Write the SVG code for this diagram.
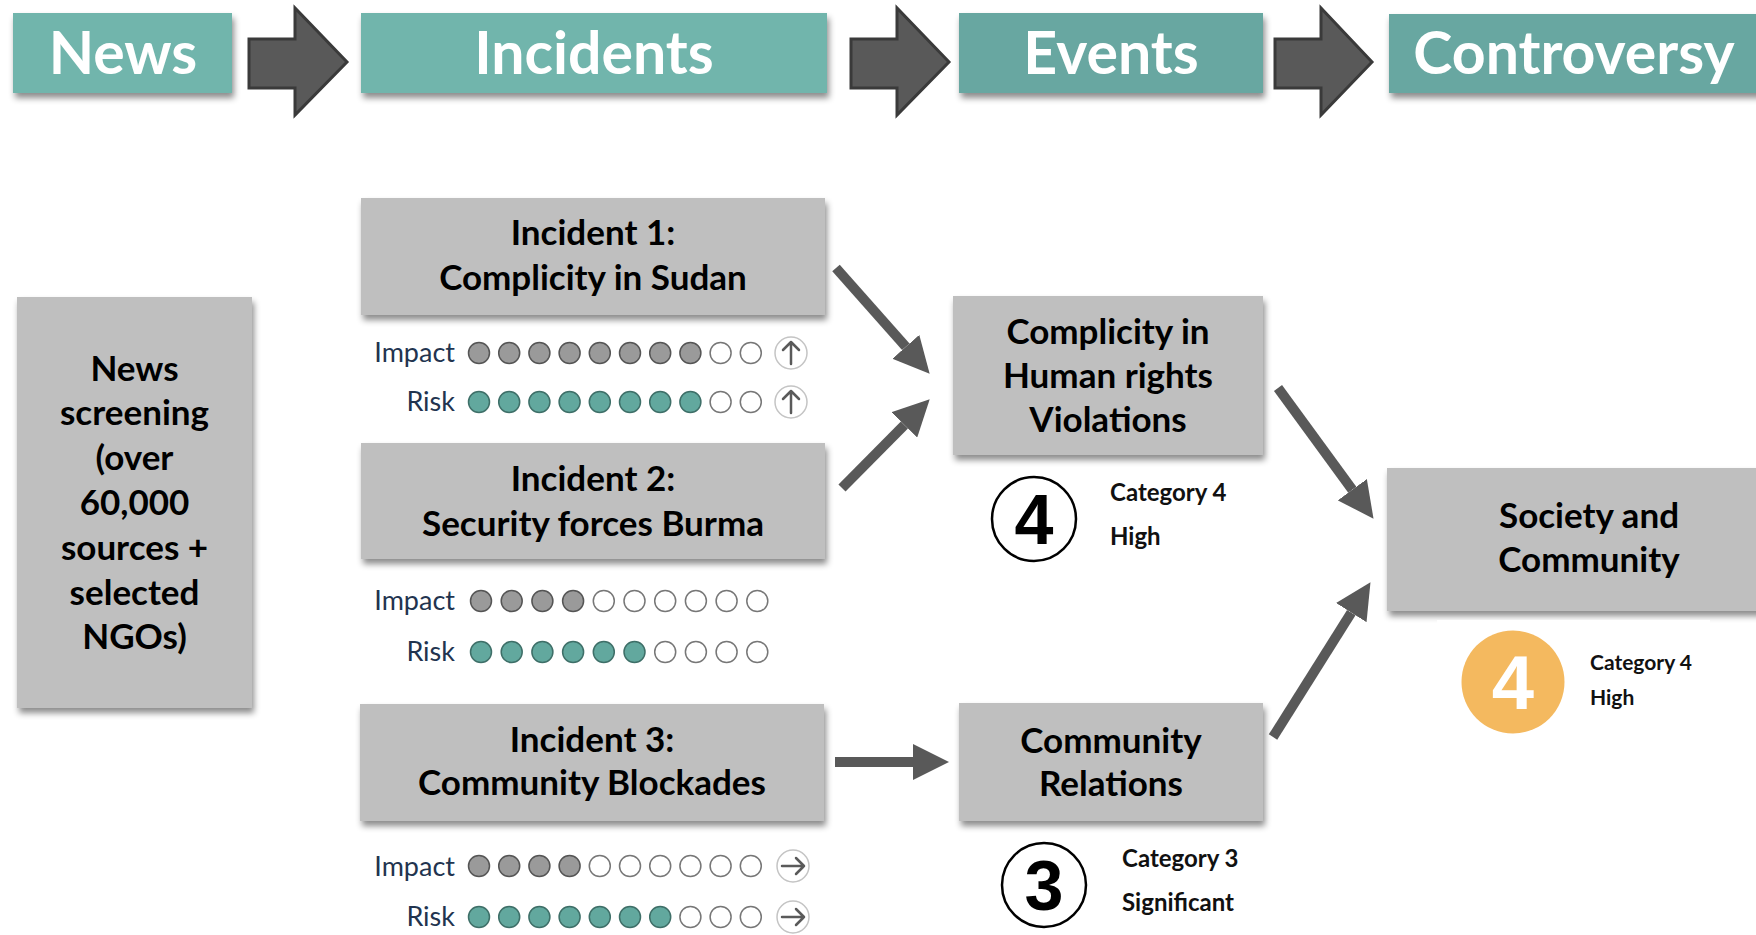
<svg xmlns="http://www.w3.org/2000/svg" width="1756" height="935" viewBox="0 0 1756 935">
<style>
.bg{fill:#fff}
.hdr{fill:#71B5AC}
.hdr2{fill:#68A7A1}
.htxt{font-family:Lato,"Liberation Sans",sans-serif;font-weight:700;font-size:59px;fill:#fff;text-anchor:middle}
.blk{fill:#595959;stroke:#3a3a3a;stroke-width:3;stroke-linejoin:miter}
.box{fill:#BFBFBF}
.ntxt{font-family:Lato,"Liberation Sans",sans-serif;font-weight:700;font-size:35px;fill:#000;text-anchor:middle}
.lbl{font-family:Lato,"Liberation Sans",sans-serif;font-size:27px;fill:#22344f;text-anchor:end}
.ci{fill:#9a9a9a;stroke:#555;stroke-width:1.5}
.cr{fill:#62a89e;stroke:#3e6f68;stroke-width:1.5}
.ce{fill:#fff;stroke:#777;stroke-width:1.5}
.tr{fill:#fff;stroke:#c4c4c4;stroke-width:1.5}
.ta{fill:none;stroke:#5a5a5a;stroke-width:2.5;stroke-linecap:round;stroke-linejoin:round}
.cat{font-family:Lato,"Liberation Sans",sans-serif;font-weight:700;font-size:24px;fill:#111}
.big{font-family:"Liberation Sans",Arial,sans-serif;font-weight:700;font-size:70px;text-anchor:middle;fill:#000}
.ring{fill:#fff;stroke:#000;stroke-width:2.5}
.conn{stroke:#595959;stroke-width:10;fill:none;marker-end:url(#ah)}
</style>
<defs>
<filter id="sh" x="-10%" y="-10%" width="125%" height="135%">
<feDropShadow dx="2" dy="5" stdDeviation="3" flood-color="#000" flood-opacity="0.45"/>
</filter>
<marker id="ah" markerUnits="userSpaceOnUse" markerWidth="36" markerHeight="36" viewBox="0 0 35 35" refX="0" refY="17.5" orient="auto">
<path d="M0,0 L35,17.5 L0,35 z" fill="#595959"/>
</marker>
</defs>
<rect class="bg" x="0" y="0" width="1756" height="935"/>

<!-- header -->
<g id="hdr-news"><rect class="hdr" x="13" y="13" width="219" height="80" filter="url(#sh)"/><text class="htxt" x="123" y="74">News</text></g>
<g id="hdr-arrow1"><polygon class="blk" points="249,39 295,39 295,8 347,62 295,115 295,88 249,88"/></g>
<g id="hdr-incidents"><rect class="hdr" x="361" y="13" width="466" height="80" filter="url(#sh)"/><text class="htxt" x="594" y="74">Incidents</text></g>
<g id="hdr-arrow2"><polygon class="blk" points="851,39 897,39 897,8 949,62 897,115 897,88 851,88"/></g>
<g id="hdr-events"><rect class="hdr2" x="959" y="13" width="304" height="80" filter="url(#sh)"/><text class="htxt" x="1111" y="74">Events</text></g>
<g id="hdr-arrow3"><polygon class="blk" points="1275,39 1321,39 1321,8 1372,62 1321,115 1321,88 1275,88"/></g>
<g id="hdr-controversy"><rect class="hdr2" x="1389" y="14" width="380" height="79" filter="url(#sh)"/><text class="htxt" x="1574" y="74">Controversy</text></g>

<!-- news screening -->
<g id="news-screening">
<rect class="box" x="17" y="297" width="235" height="411" filter="url(#sh)"/>
<text class="ntxt" x="134.5" y="381">News</text>
<text class="ntxt" x="134.5" y="425">screening</text>
<text class="ntxt" x="134.5" y="470">(over</text>
<text class="ntxt" x="134.5" y="515">60,000</text>
<text class="ntxt" x="134.5" y="560">sources +</text>
<text class="ntxt" x="134.5" y="605">selected</text>
<text class="ntxt" x="134.5" y="649">NGOs)</text>
</g>

<!-- incident 1 -->
<g id="incident1">
<rect class="box" x="361" y="198" width="464" height="117" filter="url(#sh)"/>
<text class="ntxt" x="593" y="245">Incident 1:</text>
<text class="ntxt" x="593" y="290">Complicity in Sudan</text>
<text class="lbl" x="455" y="362">Impact</text>
<circle class="ci" cx="479" cy="353" r="10.5"/><circle class="ci" cx="509.2" cy="353" r="10.5"/><circle class="ci" cx="539.4" cy="353" r="10.5"/><circle class="ci" cx="569.6" cy="353" r="10.5"/><circle class="ci" cx="599.8" cy="353" r="10.5"/><circle class="ci" cx="630" cy="353" r="10.5"/><circle class="ci" cx="660.2" cy="353" r="10.5"/><circle class="ci" cx="690.4" cy="353" r="10.5"/><circle class="ce" cx="720.6" cy="353" r="10.5"/><circle class="ce" cx="750.8" cy="353" r="10.5"/>
<circle class="tr" cx="791" cy="353" r="16"/><path class="ta" d="M791,364 V342 M783,350 L791,342 L799,350"/>
<text class="lbl" x="455" y="411">Risk</text>
<circle class="cr" cx="479" cy="402" r="10.5"/><circle class="cr" cx="509.2" cy="402" r="10.5"/><circle class="cr" cx="539.4" cy="402" r="10.5"/><circle class="cr" cx="569.6" cy="402" r="10.5"/><circle class="cr" cx="599.8" cy="402" r="10.5"/><circle class="cr" cx="630" cy="402" r="10.5"/><circle class="cr" cx="660.2" cy="402" r="10.5"/><circle class="cr" cx="690.4" cy="402" r="10.5"/><circle class="ce" cx="720.6" cy="402" r="10.5"/><circle class="ce" cx="750.8" cy="402" r="10.5"/>
<circle class="tr" cx="791" cy="402" r="16"/><path class="ta" d="M791,413 V391 M783,399 L791,391 L799,399"/>
</g>

<!-- incident 2 -->
<g id="incident2">
<rect class="box" x="361" y="443" width="464" height="116" filter="url(#sh)"/>
<text class="ntxt" x="593" y="491">Incident 2:</text>
<text class="ntxt" x="593" y="536">Security forces Burma</text>
<text class="lbl" x="455" y="610">Impact</text>
<circle class="ci" cx="481" cy="601" r="10.5"/><circle class="ci" cx="511.7" cy="601" r="10.5"/><circle class="ci" cx="542.4" cy="601" r="10.5"/><circle class="ci" cx="573.1" cy="601" r="10.5"/><circle class="ce" cx="603.8" cy="601" r="10.5"/><circle class="ce" cx="634.5" cy="601" r="10.5"/><circle class="ce" cx="665.2" cy="601" r="10.5"/><circle class="ce" cx="695.9" cy="601" r="10.5"/><circle class="ce" cx="726.6" cy="601" r="10.5"/><circle class="ce" cx="757.3" cy="601" r="10.5"/>
<text class="lbl" x="455" y="661">Risk</text>
<circle class="cr" cx="481" cy="652" r="10.5"/><circle class="cr" cx="511.7" cy="652" r="10.5"/><circle class="cr" cx="542.4" cy="652" r="10.5"/><circle class="cr" cx="573.1" cy="652" r="10.5"/><circle class="cr" cx="603.8" cy="652" r="10.5"/><circle class="cr" cx="634.5" cy="652" r="10.5"/><circle class="ce" cx="665.2" cy="652" r="10.5"/><circle class="ce" cx="695.9" cy="652" r="10.5"/><circle class="ce" cx="726.6" cy="652" r="10.5"/><circle class="ce" cx="757.3" cy="652" r="10.5"/>
</g>

<!-- incident 3 -->
<g id="incident3">
<rect class="box" x="360" y="704" width="464" height="117" filter="url(#sh)"/>
<text class="ntxt" x="592" y="752">Incident 3:</text>
<text class="ntxt" x="592" y="795">Community Blockades</text>
<text class="lbl" x="455" y="876">Impact</text>
<circle class="ci" cx="479" cy="866" r="10.5"/><circle class="ci" cx="509.2" cy="866" r="10.5"/><circle class="ci" cx="539.4" cy="866" r="10.5"/><circle class="ci" cx="569.6" cy="866" r="10.5"/><circle class="ce" cx="599.8" cy="866" r="10.5"/><circle class="ce" cx="630" cy="866" r="10.5"/><circle class="ce" cx="660.2" cy="866" r="10.5"/><circle class="ce" cx="690.4" cy="866" r="10.5"/><circle class="ce" cx="720.6" cy="866" r="10.5"/><circle class="ce" cx="750.8" cy="866" r="10.5"/>
<circle class="tr" cx="793" cy="866" r="16"/><path class="ta" d="M782,866 H804 M796,858 L804,866 L796,874"/>
<text class="lbl" x="455" y="926">Risk</text>
<circle class="cr" cx="479" cy="917" r="10.5"/><circle class="cr" cx="509.2" cy="917" r="10.5"/><circle class="cr" cx="539.4" cy="917" r="10.5"/><circle class="cr" cx="569.6" cy="917" r="10.5"/><circle class="cr" cx="599.8" cy="917" r="10.5"/><circle class="cr" cx="630" cy="917" r="10.5"/><circle class="cr" cx="660.2" cy="917" r="10.5"/><circle class="ce" cx="690.4" cy="917" r="10.5"/><circle class="ce" cx="720.6" cy="917" r="10.5"/><circle class="ce" cx="750.8" cy="917" r="10.5"/>
<circle class="tr" cx="793" cy="917" r="16"/><path class="ta" d="M782,917 H804 M796,909 L804,917 L796,925"/>
</g>

<!-- event: complicity -->
<g id="event-complicity">
<rect class="box" x="953" y="296" width="310" height="159" filter="url(#sh)"/>
<text class="ntxt" x="1108" y="344">Complicity in</text>
<text class="ntxt" x="1108" y="388">Human rights</text>
<text class="ntxt" x="1108" y="432">Violations</text>
<rect class="bg" x="976" y="468" width="256" height="10"/>
<circle class="ring" cx="1034" cy="519" r="42"/>
<text class="big" x="1034" y="544">4</text>
<text class="cat" x="1110" y="501">Category 4</text>
<text class="cat" x="1110" y="545">High</text>
</g>

<!-- event: community relations -->
<g id="event-community">
<rect class="box" x="959" y="703" width="304" height="118" filter="url(#sh)"/>
<text class="ntxt" x="1111" y="753">Community</text>
<text class="ntxt" x="1111" y="796">Relations</text>
<circle class="ring" cx="1044" cy="885" r="42"/>
<text class="big" x="1044" y="910">3</text>
<text class="cat" x="1122" y="867">Category 3</text>
<text class="cat" x="1122" y="911">Significant</text>
</g>

<!-- controversy: society -->
<g id="controversy-society">
<rect class="box" x="1387" y="468" width="380" height="143" filter="url(#sh)"/>
<text class="ntxt" x="1589" y="528">Society and</text>
<text class="ntxt" x="1589" y="572">Community</text>
<rect class="bg" x="1437" y="620" width="273" height="10"/>
<circle cx="1513" cy="682" r="51.5" fill="#F4B95F"/>
<text class="big" x="1513" y="709" style="fill:#fff;font-size:76px">4</text>
<text class="cat" x="1590" y="670" style="font-size:21px">Category 4</text>
<text class="cat" x="1590" y="705" style="font-size:21px">High</text>
</g>

<!-- connectors -->
<g id="connectors">
<line class="conn" x1="836" y1="268" x2="905.8" y2="346.8"/>
<line class="conn" x1="842" y1="488" x2="904.4" y2="424.9"/>
<line class="conn" x1="835" y1="762" x2="913" y2="762"/>
<line class="conn" x1="1278" y1="388" x2="1352.3" y2="489.7"/>
<line class="conn" x1="1273" y1="737" x2="1351.3" y2="612.6"/>
</g>
</svg>
